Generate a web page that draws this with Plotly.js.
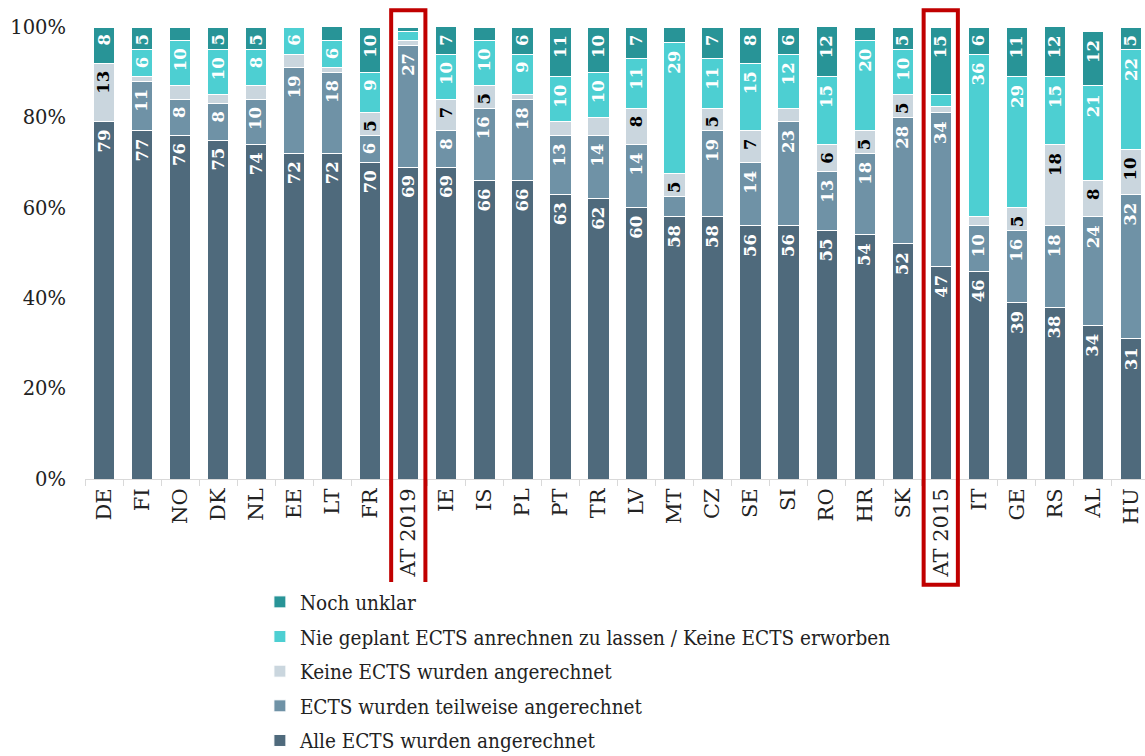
<!DOCTYPE html>
<html>
<head>
<meta charset="utf-8">
<script src="https://cdn.plot.ly/plotly-3.0.1.min.js"></script>
<style>html,body{margin:0;padding:0;background:#fff;}#chart{width:1145px;height:756px;}</style>
</head>
<body>
<div id="chart"></div>
<script>
const categories = ["DE","FI","NO","DK","NL","EE","LT","FR","AT 2019","IE","IS","PL","PT","TR","LV","MT","CZ","SE","SI","RO","HR","SK","AT 2015","IT","GE","RS","AL","HU"];
const alle      = [79,77,76,75,74,72,72,70,69,69,66,66,63,62,60,58,58,56,56,55,54,52,47,46,39,38,34,31];
const teilweise = [0,11,8,8,10,19,18,6,27,8,16,18,13,14,14,4.5,19,14,23,13,18,28,34,10,16,18,24,32];
const keine     = [13,1,3,2,3,3,1,5,1,7,5,1,3,4,8,5,5,7,3,6,5,5,1.5,2,5,18,8,10];
const nie       = [0,6,10,10,8,6,6,9,2,10,10,9,10,10,11,29,11,15,12,15,20,10,2.5,36,29,15,21,22];
const unklar    = [8,5,3,5,5,0,4,10,1,7,3,6,11,10,7,3.5,7,8,6,12,3,5,15,6,11,12,12,5];
const seriesNames = ["Alle ECTS wurden angerechnet","ECTS wurden teilweise angerechnet","Keine ECTS wurden angerechnet","Nie geplant ECTS anrechnen zu lassen / Keine ECTS erworben","Noch unklar"];
const highlighted = ["AT 2019","AT 2015"];
const yTickValues = [0, 20, 40, 60, 80, 100];
const yTickLabels = ["0%","20%","40%","60%","80%","100%"];

const seriesValues = [alle, teilweise, keine, nie, unklar];
const colors = ["#4f6a7c","#6f92a6","#cad6de","#4dcfd2","#289497"];
const labelColors = ["#ffffff","#ffffff","#000000","#ffffff","#ffffff"];
const serif = "DejaVu Serif, Liberation Serif, serif";

const traces = seriesValues.map((vals, i) => ({
  type: "bar",
  name: seriesNames[i],
  x: categories,
  y: vals,
  marker: {color: colors[i], line: {color: "#ffffff", width: 1}},
  legendgroup: "g" + i,
  legendrank: 1000 - i,
  hoverinfo: "x+y+name"
}));

const annotations = [];
categories.forEach((c, ci) => {
  let cum = 0;
  seriesValues.forEach((vals, si) => {
    const v = vals[ci];
    if (v >= 5) {
      annotations.push({
        x: c, y: Math.min(cum + v, 100), xref: "x", yref: "y",
        yanchor: "top", yshift: -7, borderpad: 0,
        text: String(v), showarrow: false, textangle: -90,
        font: {family: serif, size: 16.5, color: labelColors[si], weight: "bold"}
      });
    }
    cum += v;
  });
});

const shapes = highlighted.map(h => {
  const idx = categories.indexOf(h);
  return {
    type: "rect", xref: "x", yref: "paper",
    x0: idx - 0.45, x1: idx + 0.45, y0: -0.234, y1: 1.037,
    line: {color: "#c00000", width: 4}, fillcolor: "rgba(0,0,0,0)"
  };
});

const layout = {
  width: 1145, height: 756,
  margin: {l: 85, r: 0, t: 27, b: 277, autoexpand: false},
  barmode: "stack",
  bargap: 0.44,
  paper_bgcolor: "#ffffff", plot_bgcolor: "#ffffff",
  font: {family: serif, color: "#222222"},
  showlegend: true,
  legend: {
    x: 0.165, y: -0.228, xanchor: "left", yanchor: "top",
    orientation: "v", traceorder: "grouped", tracegroupgap: 5,
    font: {family: "DejaVu Serif Condensed, DejaVu Serif, serif", size: 20.5, color: "#222222"}
  },
  xaxis: {
    type: "category",
    range: [-0.5, 27.37],
    tickangle: -90,
    tickfont: {family: serif, size: 21, color: "#222222"},
    showline: true, linecolor: "#d9d9d9", linewidth: 1,
    ticks: "outside", tickson: "boundaries", ticklen: 6, tickcolor: "#d9d9d9",
    showgrid: false, zeroline: false
  },
  yaxis: {
    range: [0, 100],
    tickmode: "array",
    tickvals: yTickValues,
    ticktext: yTickLabels,
    ticklabelstandoff: 18,
    tickfont: {family: serif, size: 19.5, color: "#222222"},
    showgrid: false, zeroline: false, showline: false, ticks: ""
  },
  annotations: annotations,
  shapes: shapes
};

Plotly.newPlot("chart", traces, layout, {displayModeBar: false, staticPlot: true});
</script>
</body>
</html>
